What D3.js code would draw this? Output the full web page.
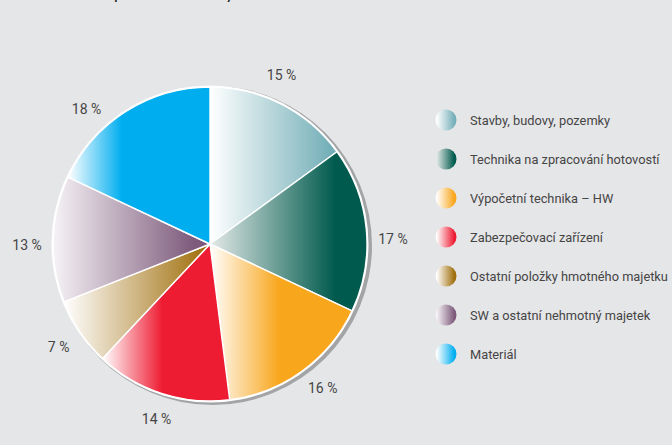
<!DOCTYPE html>
<html>
<head>
<meta charset="utf-8">
<script src="https://cdn.jsdelivr.net/npm/d3@7"></script>
<style>
  html, body { margin: 0; padding: 0; background: #e5e6e8; }
  svg { display: block; }
  text { font-family: Roboto, "Open Sans", sans-serif; fill: #454545; }
</style>
</head>
<body>
<svg id="chart" width="672" height="445"></svg>
<script>
// Struktura majetku – podíly jednotlivých skupin (v %)
const categories = [
  "Stavby, budovy, pozemky",
  "Technika na zpracování hotovostí",
  "Výpočetní technika – HW",
  "Zabezpečovací zařízení",
  "Ostatní položky hmotného majetku",
  "SW a ostatní nehmotný majetek",
  "Materiál"
];
const values = [15, 17, 16, 14, 7, 13, 18];
const titleText = "Rozpočet investic banky";

// barvy: plný odstín, odstín na světlém konci přechodu, kde přechod končí
const baseColors = ["#74afb8", "#005a4d", "#f8a61c", "#ee1c33", "#a06f0c", "#7d5a7b", "#00aeef"];
const lightColors = ["#ffffff", "#e4eae8", "#ffffff", "#ffffff", "#ffffff", "#f6f3f6", "#ffffff"];
const solidFrom = [0.95, 0.8, 0.49, 0.47, 0.97, 0.9, 0.38];

// posun popisků po obvodu (ve stupních)
const labelShiftDeg = [-4, 4, -2, -1, 0, -2, -10];

const cx = 210, cy = 244, R = 157, labelR = 183;

const svg = d3.select("#chart");
const defs = svg.append("defs");

// přechody pro výseče a značky legendy
values.forEach((v, i) => {
  const g = defs.append("linearGradient")
    .attr("id", "grad" + i)
    .attr("x1", 0).attr("y1", 0).attr("x2", 1).attr("y2", 0);
  g.append("stop").attr("offset", 0).attr("stop-color", lightColors[i]);
  g.append("stop").attr("offset", solidFrom[i]).attr("stop-color", baseColors[i]);
  g.append("stop").attr("offset", 1).attr("stop-color", baseColors[i]);

  const lg = defs.append("linearGradient")
    .attr("id", "lgrad" + i)
    .attr("x1", 0).attr("y1", 0).attr("x2", 1).attr("y2", 0);
  lg.append("stop").attr("offset", 0.05).attr("stop-color", lightColors[i]);
  lg.append("stop").attr("offset", 0.9).attr("stop-color", baseColors[i]);
});

// nadpis (horní okraj)
svg.append("text")
  .attr("x", 93).attr("y", -0.5)
  .style("font-family", "Lato, sans-serif")
  .style("font-weight", 700)
  .style("font-size", "13px")
  .style("fill", "#222")
  .text(titleText);

const pie = d3.pie().sort(null).value(d => d);
const arcs = pie(values);
const arc = d3.arc().innerRadius(0).outerRadius(R);

const g = svg.append("g").attr("transform", `translate(${cx},${cy})`);

// stín a bílý okraj koláče
g.append("circle").attr("cx", 2.5).attr("cy", 1.5).attr("r", R + 2.5).attr("fill", "#a3a4a6");
g.append("circle").attr("r", R + 1.5).attr("fill", "#ffffff");

g.selectAll("path.slice")
  .data(arcs)
  .join("path")
  .attr("class", "slice")
  .attr("d", arc)
  .attr("fill", (d, i) => `url(#grad${i})`)
  .attr("stroke", "#ffffff")
  .attr("stroke-width", 1.4)
  .attr("stroke-linejoin", "round");

function labelPos(d, i) {
  const a = (d.startAngle + d.endAngle) / 2 + labelShiftDeg[i] * Math.PI / 180;
  return [labelR * Math.sin(a), -labelR * Math.cos(a)];
}

g.selectAll("text.pct")
  .data(arcs)
  .join("text")
  .attr("class", "pct")
  .attr("transform", (d, i) => `translate(${labelPos(d, i)})`)
  .attr("text-anchor", "middle")
  .attr("dy", "0.35em")
  .style("font-size", "14px")
  .text(d => d.data + " %");

// legenda
const legendY = d3.scalePoint()
  .domain(categories)
  .range([120, 354]);

const items = svg.append("g")
  .selectAll("g")
  .data(categories)
  .join("g")
  .attr("transform", d => `translate(446,${legendY(d)})`);

items.append("circle")
  .attr("r", 10.5)
  .attr("fill", (d, i) => `url(#lgrad${i})`);

items.append("text")
  .attr("x", 24)
  .attr("dy", "0.36em")
  .style("font-size", "12.8px")
  .text(d => d);
</script>
</body>
</html>
